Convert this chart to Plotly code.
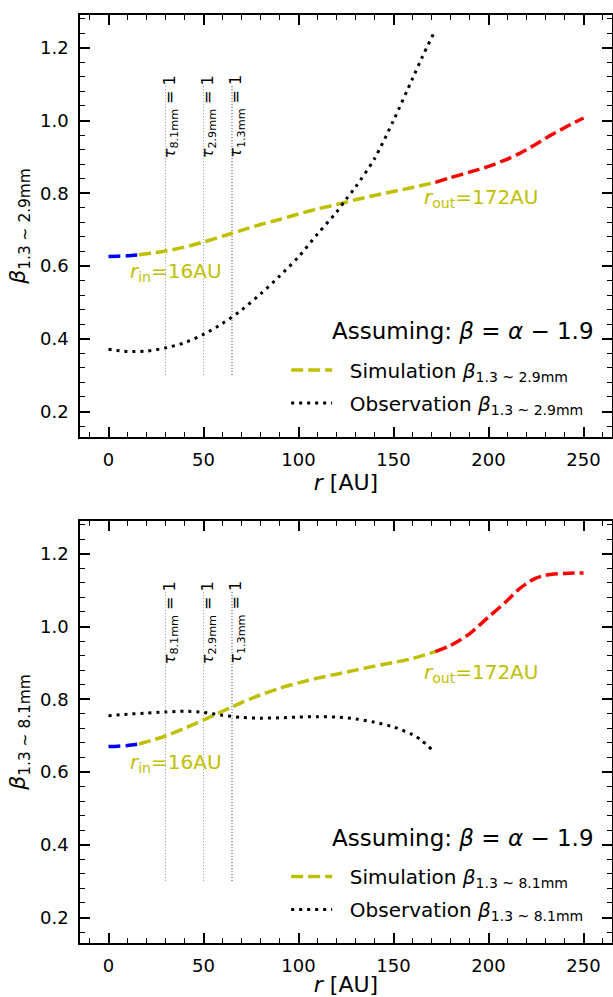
import plotly.graph_objects as go

# ---- radial grids [AU] ----
r_inner = [0, 5, 10, 16]                      # inside r_in
r_disk = [16, 30, 40, 50, 60, 65, 70, 80, 90, 100, 110, 120, 130, 140, 150, 160, 172]
r_outer = [172, 180, 190, 200, 210, 215, 220, 225, 230, 240, 250]   # outside r_out

# ---- simulated spectral index beta(1.3~2.9mm) ----
sim29_inner = [0.626, 0.627, 0.628, 0.631]
sim29_disk = [0.631, 0.641, 0.652, 0.666, 0.682, 0.690, 0.698, 0.714, 0.728,
              0.743, 0.757, 0.769, 0.782, 0.794, 0.805, 0.816, 0.830]
sim29_outer = [0.830, 0.843, 0.858, 0.874, 0.894, 0.906, 0.920, 0.935, 0.951, 0.980, 1.007]

# ---- simulated spectral index beta(1.3~8.1mm) ----
sim81_inner = [0.670, 0.671, 0.673, 0.677]
sim81_disk = [0.677, 0.699, 0.720, 0.743, 0.767, 0.779, 0.791, 0.812, 0.830,
              0.845, 0.858, 0.869, 0.880, 0.891, 0.901, 0.912, 0.931]
sim81_outer = [0.931, 0.948, 0.980, 1.026, 1.072, 1.098, 1.118, 1.133, 1.141, 1.146, 1.147]

# ---- observed spectral indices ----
r_obs29 = [0, 10, 20, 30, 40, 50, 60, 70, 80, 90, 100, 110, 120, 125, 130,
           140, 150, 160, 165, 171]
obs29 = [0.371, 0.365, 0.366, 0.375, 0.389, 0.412, 0.442, 0.479, 0.523, 0.572,
         0.625, 0.688, 0.748, 0.783, 0.817, 0.895, 1.000, 1.115, 1.173, 1.238]
r_obs81 = [0, 10, 20, 30, 40, 50, 60, 70, 80, 90, 100, 110, 120, 130, 140,
           150, 160, 165, 170]
obs81 = [0.755, 0.759, 0.762, 0.765, 0.767, 0.764, 0.756, 0.750, 0.748, 0.749,
         0.751, 0.752, 0.751, 0.746, 0.737, 0.724, 0.703, 0.686, 0.662]

# ---- tau = 1 radii ----
tau_r = [30, 50, 65]
tau_labels = ["8.1mm", "2.9mm", "1.3mm"]
tau_colors = ["#9a9a9a", "#9a9a9a", "#333333"]
tau_span = [0.3, 1.1]

r_in, r_out = 16, 172

YEL = "#bfbf00"
FONT = "DejaVu Sans"
SIM_DASH = "12px,5px"
OBS_DASH = "3px,5px"

panels = [
    dict(xa="x", ya="y", leg="legend", band="1.3 ~ 2.9mm",
         sim=(sim29_inner, sim29_disk, sim29_outer), r_obs=r_obs29, obs=obs29,
         rin_y=0.583, rout_y=0.786),
    dict(xa="x2", ya="y2", leg="legend2", band="1.3 ~ 8.1mm",
         sim=(sim81_inner, sim81_disk, sim81_outer), r_obs=r_obs81, obs=obs81,
         rin_y=0.625, rout_y=0.873),
]

fig = go.Figure()
annotations = []

for p in panels:
    inner, disk, outer = p["sim"]
    common = dict(xaxis=p["xa"], yaxis=p["ya"], mode="lines", legend=p["leg"])
    # tau = 1 markers
    for rt, col in zip(tau_r, tau_colors):
        fig.add_trace(go.Scatter(x=[rt, rt], y=tau_span, showlegend=False,
                                 line=dict(color=col, width=1, dash="1px,2px"),
                                 **common))
    fig.add_trace(go.Scatter(x=r_inner, y=inner, showlegend=False,
                             line=dict(color="#0000ff", width=3.5, dash=SIM_DASH,
                                       shape="spline", smoothing=0.8), **common))
    fig.add_trace(go.Scatter(x=r_disk, y=disk, showlegend=True, legendgroup="sim",
                             name="\u00a0\u00a0Simulation <i>β</i><sub>" + p["band"] + "</sub>",
                             line=dict(color=YEL, width=3.5, dash=SIM_DASH,
                                       shape="spline", smoothing=0.8), **common))
    fig.add_trace(go.Scatter(x=r_outer, y=outer, showlegend=False,
                             line=dict(color="#ff0000", width=3.5, dash=SIM_DASH,
                                       shape="spline", smoothing=0.8), **common))
    fig.add_trace(go.Scatter(x=p["r_obs"], y=p["obs"], showlegend=True, legendgroup="obs",
                             name="\u00a0\u00a0Observation <i>β</i><sub>" + p["band"] + "</sub>",
                             line=dict(color="black", width=3, dash=OBS_DASH,
                                       shape="spline", smoothing=0.8), **common))

    for rt, lab in zip(tau_r, tau_labels):
        annotations.append(dict(
            x=rt, y=1.13, xref=p["xa"], yref=p["ya"], xanchor="center", yanchor="top",
            xshift=5, textangle=-90, showarrow=False,
            text="<i>τ</i><sub>" + lab + "</sub> = 1",
            font=dict(family=FONT, size=16, color="black")))
    annotations.append(dict(
        x=10, y=p["rin_y"], xref=p["xa"], yref=p["ya"], xanchor="left", yanchor="middle",
        showarrow=False, text="<i>r</i><sub>in</sub>=%dAU" % r_in,
        font=dict(family=FONT, size=20, color=YEL)))
    annotations.append(dict(
        x=165, y=p["rout_y"], xref=p["xa"], yref=p["ya"], xanchor="left", yanchor="middle",
        showarrow=False, text="<i>r</i><sub>out</sub>=%dAU" % r_out,
        font=dict(family=FONT, size=20, color=YEL)))
    annotations.append(dict(
        x=256.5, y=0.42, xref=p["xa"], yref=p["ya"], xanchor="right", yanchor="middle",
        showarrow=False, text="Assuming: <i>β</i> = <i>α</i> − 1.9",
        font=dict(family=FONT, size=23, color="black")))


def xaxis(anchor, dom_title):
    return dict(
        range=[-15, 265], anchor=anchor, domain=[0, 1],
        showline=True, linecolor="black", linewidth=1.5, mirror="allticks",
        ticks="inside", ticklen=10, tickwidth=1.5, tickcolor="black",
        dtick=50, tick0=0, showgrid=False, zeroline=False,
        minor=dict(dtick=10, ticks="inside", ticklen=5, tickwidth=1, tickcolor="black"),
        tickfont=dict(family=FONT, size=18, color="black"), ticklabelstandoff=6,
        title=dict(text=dom_title, font=dict(family=FONT, size=22, color="black"), standoff=4),
    )


def yaxis(anchor, domain, band):
    return dict(
        range=[0.13, 1.29], anchor=anchor, domain=domain,
        showline=True, linecolor="black", linewidth=1.5, mirror="allticks",
        ticks="inside", ticklen=10, tickwidth=1.5, tickcolor="black",
        dtick=0.2, tick0=0, tickformat=".1f", showgrid=False, zeroline=False,
        minor=dict(dtick=0.04, tick0=0, ticks="inside", ticklen=5, tickwidth=1,
                   tickcolor="black"),
        tickfont=dict(family=FONT, size=18, color="black"), ticklabelstandoff=6,
        title=dict(text="<i>β</i><sub>" + band + "</sub>",
                   font=dict(family=FONT, size=22, color="black"), standoff=8),
    )


legend_style = dict(font=dict(family=FONT, size=20, color="black"), bgcolor="rgba(0,0,0,0)",
                    borderwidth=0, itemwidth=41, tracegroupgap=4, traceorder="grouped",
                    xanchor="left", yanchor="top", itemclick=False)

fig.update_layout(
    width=613, height=997, margin=dict(l=80, r=1, t=0, b=0),
    paper_bgcolor="white", plot_bgcolor="white",
    font=dict(family=FONT, color="black"),
    xaxis=xaxis("y", "<i>r</i> [AU]"),
    yaxis=yaxis("x", [0.5617, 0.98495], "1.3 ~ 2.9mm"),
    xaxis2=xaxis("y2", "<i>r</i> [AU]"),
    yaxis2=yaxis("x2", [0.05416, 0.47743], "1.3 ~ 8.1mm"),
    legend=dict(x=0.3875, y=0.6485, **legend_style),
    legend2=dict(x=0.3875, y=0.1405, **legend_style),
    annotations=annotations,
)

fig.write_html("out.html")
